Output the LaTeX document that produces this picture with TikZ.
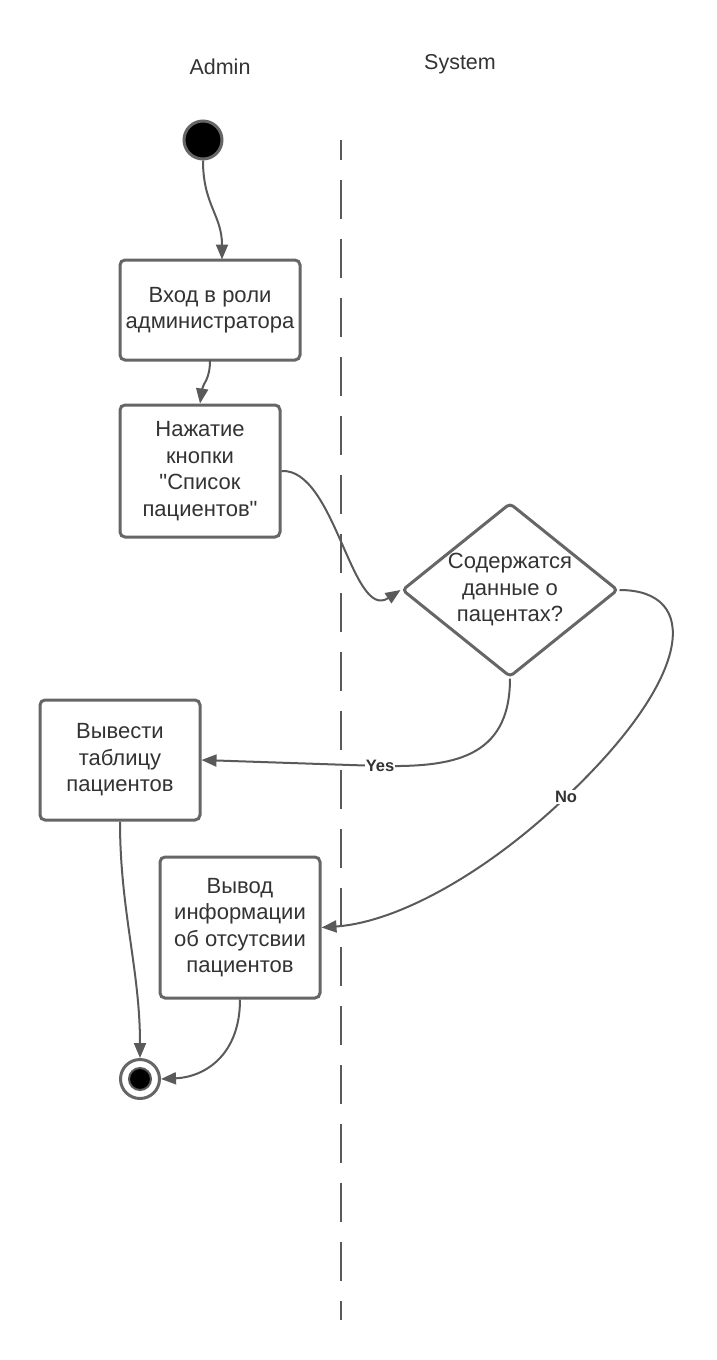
\documentclass[tikz,border=0pt]{standalone}
\usepackage{fontspec}
\setmainfont{Liberation Sans}[Ligatures=TeXOff]
\usetikzlibrary{arrows.meta,shapes.geometric}
\definecolor{linegray}{HTML}{5A5A5A}
\definecolor{boxgray}{HTML}{666666}
\definecolor{txtgray}{HTML}{333333}
\tikzset{
  boxtext/.style={align=center, text=txtgray, font=\fontsize{22}{26.5}\selectfont},
  actbox/.style={draw=boxgray, line width=3pt, rounded corners=5pt, fill=white,
    boxtext, inner sep=0pt},
  decbox/.style={draw=boxgray, line width=3pt, rounded corners=4pt, shape=diamond,
    fill=white, inner sep=0pt, minimum width=216pt, minimum height=174pt},
  conn/.style={draw=linegray, line width=2pt, -{Triangle[length=15pt,width=12pt]}},
  lbl/.style={fill=white, text=txtgray, font=\fontsize{16.5}{18}\bfseries, inner sep=1pt},
  lane/.style={text=txtgray, font=\fontsize{21.5}{26}\selectfont},
}
\begin{document}
\begin{tikzpicture}[x=1pt,y=-1pt]
\useasboundingbox (0,0) rectangle (716,1360);
% swimlane titles
\node[lane] (admin) at (220,67) {Admin};
\node[lane] (system) at (460,64) {System};
% dashed separator
\coordinate (dtop) at (341,140);
\coordinate (dbot) at (341,1320);
\draw[linegray, line width=2pt, dash pattern=on 39pt off 20pt, dash phase=19pt] (dtop) -- (dbot);
% start
\node[circle, draw=boxgray, line width=3pt, fill=black, minimum size=38pt, inner sep=0pt] (start) at (203,140) {};
% boxes
\node[actbox, minimum width=180pt, minimum height=100pt] (b1) at (210,310) {Вход в роли\\администратора};
\node[actbox, minimum width=160pt, minimum height=132pt] (b2) at (200,471) {Нажатие\\кнопки\\"Список\\пациентов"};
\node[decbox, label={[boxtext]center:Содержатся\\данные о\\пацентах?}] (dec) at (510,590) {};
\node[actbox, minimum width=160pt, minimum height=120pt] (b3) at (120,760) {Вывести\\таблицу\\пациентов};
\node[actbox, minimum width=160pt, minimum height=141pt] (b4) at (240,927.5) {Вывод\\информации\\об отсутсвии\\пациентов};
% end
\node[circle, draw=boxgray, line width=3pt, fill=white, minimum size=39pt, inner sep=0pt] (endn) at (140,1079) {};
\filldraw[fill=black, draw=linegray, line width=2pt] (endn.center) circle (11pt);
% connectors
\draw[conn] (start.south) .. controls (203,205) and (222,215) .. (222,259.5);
\draw[conn] (210,360) .. controls (210,380) and (203,383) .. (b2.north);
\draw[conn] (b2.east) .. controls (335,468) and (352,622) .. (dec.west);
\draw[conn] (dec.south) .. controls (510,760) and (450,767) .. node[at end, lbl] (yes) {Yes} (380,766) -- (b3.east);
\draw[conn] (dec.east) .. controls (700,590) and (695,675) .. (566,797) node[lbl] (no) {No} .. controls (490,870) and (400,922) .. (b4.east);
\draw[conn] (b3.south) .. controls (120,910) and (140,970) .. (endn.north);
\draw[conn] (b4.south) .. controls (240,1055) and (205,1077) .. (endn.east);
\end{tikzpicture}
\end{document}
